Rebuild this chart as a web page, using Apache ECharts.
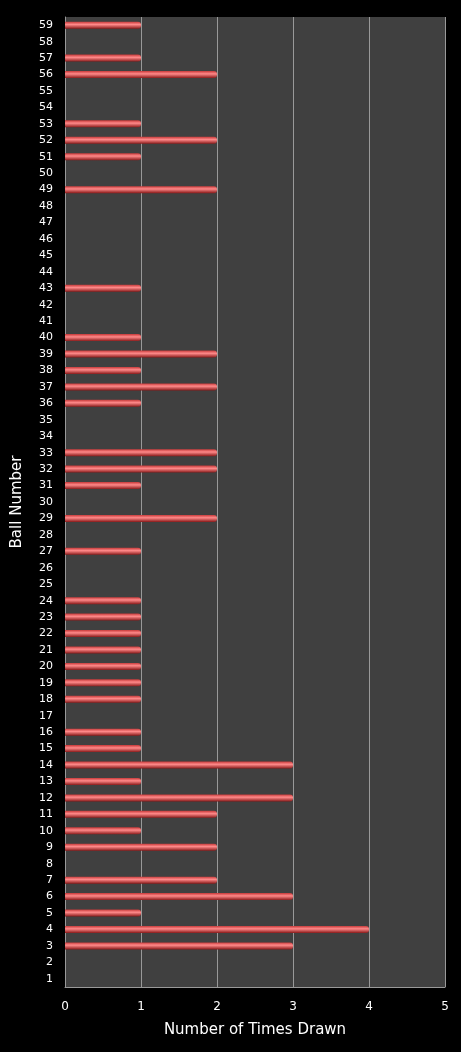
<!DOCTYPE html>
<html><head><meta charset="utf-8">
<script src="https://cdn.jsdelivr.net/npm/echarts@6/dist/echarts.min.js"></script>
<style>html,body{margin:0;padding:0;background:#000;}#c{width:461px;height:1052px;}</style>
</head><body><div id="c"></div>
<script>
var balls = [];
for (var i = 1; i <= 59; i++) balls.push(String(i));
var timesDrawn = [0,0,3,4,1,3,2,0,2,1, 2,3,1,3,1,1,0,1,1,1, 1,1,1,1,0,0,1,0,2,0, 1,2,2,0,0,1,2,1,2,1, 0,0,1,0,0,0,0,0,2,0, 1,2,1,0,0,2,1,0,1];
var xTicks = [0, 1, 2, 3, 4, 5];

var chart = echarts.init(document.getElementById('c'));
chart.setOption({
    backgroundColor: '#000',
    grid: { left: 65, right: 16, top: 17, bottom: 65, backgroundColor: '#404040', show: true, borderWidth: 0 },
    xAxis: {
        type: 'value', min: 0, max: 5, interval: 1,
        name: 'Number of Times Drawn', nameLocation: 'middle', nameGap: 36,
        nameTextStyle: { color: '#fff', fontSize: 15, fontFamily: 'DejaVu Sans' },
        axisLine: { show: true, lineStyle: { color: '#999' } },
        axisTick: { show: false },
        axisLabel: { color: '#fff', fontSize: 12, margin: 14, fontFamily: 'DejaVu Sans',
            formatter: function (v) { return xTicks.indexOf(v) >= 0 ? String(v) : ''; } },
        splitLine: { lineStyle: { color: '#999', width: 1 } }
    },
    yAxis: {
        type: 'category', data: balls,
        name: 'Ball Number', nameLocation: 'middle', nameGap: 40,
        nameTextStyle: { color: '#fff', fontSize: 15, fontFamily: 'DejaVu Sans' },
        axisLine: { show: true, lineStyle: { color: '#999' } },
        axisTick: { show: false },
        axisLabel: { color: '#fff', fontSize: 11, interval: 0, margin: 12, fontFamily: 'DejaVu Sans' },
        splitLine: { show: false }
    },
    series: [{
        type: 'bar', data: timesDrawn, barWidth: 7,
        itemStyle: {
            color: new echarts.graphic.LinearGradient(0, 0, 0, 1, [
                { offset: 0, color: '#c83a3a' },
                { offset: 0.4, color: '#ff8a8a' },
                { offset: 1, color: '#8a1a1a' }
            ]),
            borderRadius: [0, 3, 3, 0]
        }
    }]
});
</script></body></html>
